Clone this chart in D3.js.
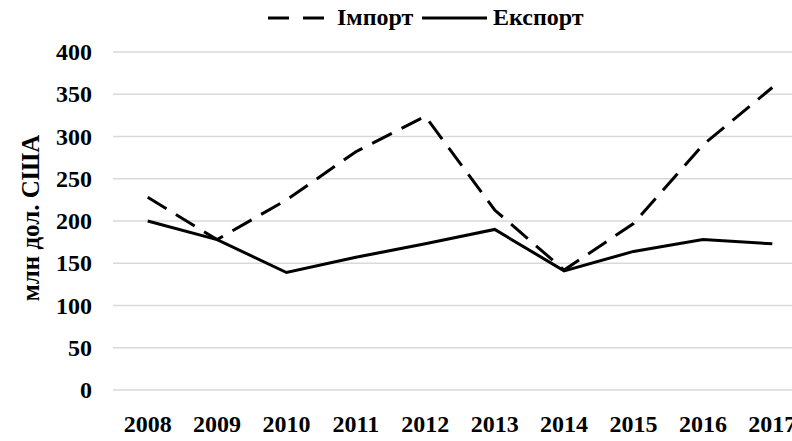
<!DOCTYPE html>
<html>
<head>
<meta charset="utf-8">
<script src="https://cdn.jsdelivr.net/npm/d3@7"></script>
<style>
  body { margin: 0; background: #fff; }
  text { font-family: "Liberation Serif", "Times New Roman", serif; font-weight: bold; }
</style>
</head>
<body>
<script>
const width = 792;
const height = 441;

const years = ["2008", "2009", "2010", "2011", "2012", "2013", "2014", "2015", "2016", "2017"];
const importVals = [228, 178, 225, 282, 324, 213, 142, 197, 290, 358];
const exportVals = [200, 178, 139, 157, 173, 190, 141, 164, 178, 173];
const yTicks = [0, 50, 100, 150, 200, 250, 300, 350, 400];

const margin = {left: 113, top: 52, bottom: 51};
const plotRight = 807;
const fontSize = 24;

let svg = d3.select("body")
    .append("svg")
    .attr("width", width)
    .attr("height", height);

var xScale = d3.scaleBand()
    .domain(years)
    .range([margin.left, plotRight]);

var yScale = d3.scaleLinear()
    .domain([0, 400])
    .range([height - margin.bottom, margin.top]);

// gridlines
svg.append("g")
    .selectAll("line")
    .data(yTicks)
    .enter()
    .append("line")
    .attr("x1", margin.left)
    .attr("x2", plotRight)
    .attr("y1", function(d) { return yScale(d); })
    .attr("y2", function(d) { return yScale(d); })
    .attr("stroke", "#d9d9d9")
    .attr("stroke-width", 1.3);

// y labels
var yAxis = d3.axisLeft(yScale).tickValues(yTicks).tickSize(0).tickPadding(21);
var gy = svg.append("g")
    .attr("transform", "translate(" + margin.left + ",0)")
    .call(yAxis);
gy.select(".domain").remove();
gy.selectAll("text")
    .attr("font-size", fontSize)
    .attr("text-anchor", "end")
    .attr("fill", "#000")
    .style("font-family", "Liberation Serif");

// x labels
var xAxis = d3.axisBottom(xScale).tickSize(0).tickPadding(25);
var gx = svg.append("g")
    .attr("transform", "translate(0," + (height - margin.bottom) + ")")
    .call(xAxis);
gx.select(".domain").remove();
gx.selectAll("text")
    .attr("font-size", fontSize)
    .attr("fill", "#000")
    .style("font-family", "Liberation Serif");

// axis title
svg.append("text")
    .attr("transform", "translate(39,218) rotate(-90)")
    .attr("text-anchor", "middle")
    .attr("font-size", 25)
    .text("млн дол. США");

var line = d3.line()
    .x(function(d, i) { return xScale(years[i]) + xScale.bandwidth() / 2; })
    .y(function(d) { return yScale(d); });

svg.append("path")
    .datum(importVals)
    .attr("d", line)
    .attr("fill", "none")
    .attr("stroke", "#000")
    .attr("stroke-width", 3)
    .attr("stroke-dasharray", "22,11");

svg.append("path")
    .datum(exportVals)
    .attr("d", line)
    .attr("fill", "none")
    .attr("stroke", "#000")
    .attr("stroke-width", 3);

// legend
var legend = svg.append("g");
legend.append("line")
    .attr("x1", 268).attr("x2", 325)
    .attr("y1", 18).attr("y2", 18)
    .attr("stroke", "#000").attr("stroke-width", 3)
    .attr("stroke-dasharray", "21,14");
legend.append("text")
    .attr("x", 337).attr("y", 25)
    .attr("font-size", fontSize)
    .text("Імпорт");
legend.append("line")
    .attr("x1", 422).attr("x2", 487)
    .attr("y1", 18).attr("y2", 18)
    .attr("stroke", "#000").attr("stroke-width", 3);
legend.append("text")
    .attr("x", 493).attr("y", 25)
    .attr("font-size", fontSize)
    .text("Експорт");
</script>
</body>
</html>
